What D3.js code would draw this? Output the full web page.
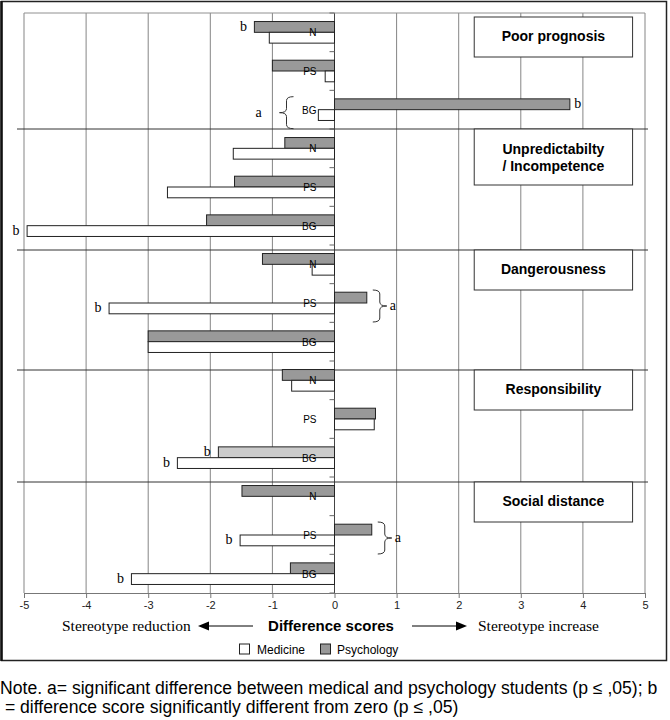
<!DOCTYPE html>
<html>
<head>
<meta charset="utf-8">
<script src="https://cdn.jsdelivr.net/npm/d3@7"></script>
<style>
body { margin: 0; background: #fff; }
</style>
</head>
<body>
<div id="container"></div>
<script>
// data
let groups = [["Poor prognosis"], ["Unpredictabilty", "/ Incompetence"], ["Dangerousness"], ["Responsibility"], ["Social distance"]];
let categories = ["N", "PS", "BG", "N", "PS", "BG", "N", "PS", "BG", "N", "PS", "BG", "N", "PS", "BG"];
let medicine = [-1.05, -0.15, -0.26, -1.63, -2.69, -4.95, -0.36, -3.63, -3.00, -0.69, 0.64, -2.53, 0, -1.52, -3.27];
let psychology = [-1.29, -1.00, 3.79, -0.80, -1.61, -2.06, -1.16, 0.52, -3.00, -0.84, 0.66, -1.87, -1.49, 0.60, -0.71];
let ticks = [-5, -4, -3, -2, -1, 0, 1, 2, 3, 4, 5];
// b = different from zero, a = medicine vs psychology
let bMarks = [[0, "psy"], [2, "psy"], [5, "med"], [7, "med"], [11, "psy"], [11, "med"], [13, "med"], [14, "med"]];
let aMarks = [[2, "left"], [7, "right"], [13, "right"]];

let viz = d3.select("#container")
  .append("svg")
    .attr("width", 670)
    .attr("height", 720)
;

let x = d3.scaleLinear().domain([-5, 5]).range([24, 645]);
let y = d3.scaleBand().domain(d3.range(15)).range([13, 593]);
let barH = 10.8;
let sans = "Liberation Sans, Arial, sans-serif";
let serif = "Liberation Serif, Times New Roman, serif";

// outer frame
viz.append("rect")
    .attr("x", 1.5)
    .attr("y", 1.5)
    .attr("width", 665)
    .attr("height", 659)
    .attr("fill", "none")
    .attr("stroke", "#222")
    .attr("stroke-width", 1.5)
;
viz.append("line")
    .attr("x1", 1.5).attr("y1", 1)
    .attr("x2", 1.5).attr("y2", 661)
    .attr("stroke", "#111")
    .attr("stroke-width", 2.5)
;

// grid
viz.selectAll(".grid")
  .data(ticks)
  .enter()
  .append("line")
    .attr("x1", d => x(d))
    .attr("x2", d => x(d))
    .attr("y1", 13)
    .attr("y2", 593)
    .attr("stroke", d => d == 0 ? "#444" : "#858585")
    .attr("stroke-width", 1)
;
viz.append("line")
    .attr("x1", x(-5)).attr("y1", 13)
    .attr("x2", x(5)).attr("y2", 13)
    .attr("stroke", "#909090")
;

// little category ticks on the zero line
viz.selectAll(".ctick")
  .data(d3.range(16))
  .enter()
  .append("line")
    .attr("x1", x(0) - 5)
    .attr("x2", x(0))
    .attr("y1", d => 13 + d * y.bandwidth())
    .attr("y2", d => 13 + d * y.bandwidth())
    .attr("stroke", "#666")
;

// panel separators
let sepY = [129, 250, 370, 482];
viz.selectAll(".sep")
  .data(sepY)
  .enter()
  .append("line")
    .attr("x1", 17)
    .attr("x2", 648)
    .attr("y1", d => d)
    .attr("y2", d => d)
    .attr("stroke", "#333")
;

// title boxes
let boxY = [17, 129, 250, 370, 482];
groups.forEach(function(g, i) {
  let h = g.length > 1 ? 56 : 40;
  viz.append("rect")
      .attr("x", x(2.25))
      .attr("y", boxY[i])
      .attr("width", x(4.8) - x(2.25))
      .attr("height", h)
      .attr("fill", "white")
      .attr("stroke", "#333")
  ;
  g.forEach(function(t, j) {
    viz.append("text")
        .text(t)
        .attr("font-family", sans)
        .attr("font-weight", "bold")
        .attr("font-size", 14)
        .attr("text-anchor", "middle")
        .attr("x", (x(2.25) + x(4.8)) / 2)
        .attr("y", g.length > 1 ? boxY[i] + 25 + j * 17 : boxY[i] + 24)
    ;
  });
});

// bars
function barX(v) { return Math.min(x(0), x(v)); }
function barW(v) { return Math.abs(x(v) - x(0)); }
function mid(i) { return y(i) + y.bandwidth() / 2; }

viz.selectAll(".psy")
  .data(psychology)
  .enter()
  .append("rect")
    .attr("x", d => barX(d))
    .attr("y", (d, i) => mid(i) - barH)
    .attr("width", d => barW(d))
    .attr("height", barH)
    .attr("fill", (d, i) => i == 11 ? "#cbcbcb" : "#999999")
    .attr("stroke", "#222")
;

viz.selectAll(".med")
  .data(medicine)
  .enter()
  .append("rect")
    .attr("x", d => barX(d))
    .attr("y", (d, i) => mid(i))
    .attr("width", d => barW(d))
    .attr("height", barH)
    .attr("fill", "white")
    .attr("stroke", "#222")
    .attr("display", d => d == 0 ? "none" : null)
;

// category labels
viz.selectAll(".cat")
  .data(categories)
  .enter()
  .append("text")
    .text(d => d)
    .attr("font-family", sans)
    .attr("font-size", 10)
    .attr("text-anchor", "end")
    .attr("x", x(0) - 18)
    .attr("y", (d, i) => mid(i) + 4)
;

// b marks
bMarks.forEach(function(m) {
  let v = m[1] == "psy" ? psychology[m[0]] : medicine[m[0]];
  let cy = m[1] == "psy" ? mid(m[0]) - barH / 2 : mid(m[0]) + barH / 2;
  viz.append("text")
      .text("b")
      .attr("font-family", serif)
      .attr("font-size", 14)
      .attr("text-anchor", "middle")
      .attr("x", v < 0 ? x(v) - 11 : x(v) + 8)
      .attr("y", cy + 4)
  ;
});

// a marks with braces
function brace(x0, w, y1, y2, dir) {
  let ym = (y1 + y2) / 2;
  let xm = x0 + dir * w / 2;
  let xt = x0 + dir * w;
  let r = 4;
  return "M" + x0 + "," + y1 +
    " Q" + xm + "," + y1 + " " + xm + "," + (y1 + r) +
    " L" + xm + "," + (ym - r) +
    " Q" + xm + "," + ym + " " + xt + "," + ym +
    " Q" + xm + "," + ym + " " + xm + "," + (ym + r) +
    " L" + xm + "," + (y2 - r) +
    " Q" + xm + "," + y2 + " " + x0 + "," + y2;
}
aMarks.forEach(function(m) {
  let i = m[0];
  let y1 = mid(i) - 13, y2 = mid(i) + 19;
  let x0, dir, tx;
  if (m[1] == "left") {
    x0 = x(0) - 41; dir = -1; tx = x0 - 35;
  } else {
    x0 = x(Math.max(psychology[i], medicine[i])) + 6; dir = 1; tx = x0 + 20;
  }
  viz.append("path")
      .attr("d", brace(x0, 14, y1, y2, dir))
      .attr("fill", "none")
      .attr("stroke", "#333")
  ;
  viz.append("text")
      .text("a")
      .attr("font-family", serif)
      .attr("font-size", 14)
      .attr("text-anchor", "middle")
      .attr("x", tx)
      .attr("y", (y1 + y2) / 2 + 4)
  ;
});

// x axis
let axis = viz.append("g")
    .attr("transform", "translate(0,593)")
    .call(d3.axisBottom(x).tickValues(ticks).tickSize(5).tickSizeOuter(0).tickFormat(d => String(d)))
;
axis.select(".domain").attr("stroke", "#777");
axis.selectAll(".tick line").attr("stroke", "#777");
axis.selectAll("text")
    .attr("font-family", sans)
    .attr("font-size", 11)
    .attr("fill", "#222")
;

// bottom caption with arrows
viz.append("text")
    .text("Stereotype reduction")
    .attr("font-family", serif)
    .attr("font-size", 15.5)
    .attr("x", 62)
    .attr("y", 631)
;
viz.append("text")
    .text("Difference scores")
    .attr("font-family", sans)
    .attr("font-weight", "bold")
    .attr("font-size", 15)
    .attr("text-anchor", "middle")
    .attr("x", 331)
    .attr("y", 631)
;
viz.append("text")
    .text("Stereotype increase")
    .attr("font-family", serif)
    .attr("font-size", 15.5)
    .attr("x", 478)
    .attr("y", 631)
;
viz.append("line")
    .attr("x1", 253).attr("y1", 626)
    .attr("x2", 206).attr("y2", 626)
    .attr("stroke", "black")
;
viz.append("path")
    .attr("d", "M198,626 L209,621.5 L209,630.5 Z")
    .attr("fill", "black")
;
viz.append("line")
    .attr("x1", 412).attr("y1", 626)
    .attr("x2", 459).attr("y2", 626)
    .attr("stroke", "black")
;
viz.append("path")
    .attr("d", "M467,626 L456,621.5 L456,630.5 Z")
    .attr("fill", "black")
;

// legend
viz.append("rect")
    .attr("x", 239.5).attr("y", 644)
    .attr("width", 10).attr("height", 10)
    .attr("fill", "white")
    .attr("stroke", "#222")
;
viz.append("text")
    .text("Medicine")
    .attr("font-family", sans)
    .attr("font-size", 12)
    .attr("x", 257)
    .attr("y", 653.5)
;
viz.append("rect")
    .attr("x", 320.5).attr("y", 644)
    .attr("width", 10).attr("height", 10)
    .attr("fill", "#999999")
    .attr("stroke", "#222")
;
viz.append("text")
    .text("Psychology")
    .attr("font-family", sans)
    .attr("font-size", 12)
    .attr("x", 337)
    .attr("y", 653.5)
;

// note
viz.append("text")
    .text("Note. a= significant difference between medical and psychology students (p \u2264 ,05); b")
    .attr("font-family", sans)
    .attr("font-size", 17.6)
    .attr("x", 0)
    .attr("y", 694)
;
viz.append("text")
    .text(" = difference score significantly different from zero (p \u2264 ,05)")
    .attr("font-family", sans)
    .attr("font-size", 17.6)
    .attr("xml:space", "preserve")
    .attr("x", 0)
    .attr("y", 713)
;
</script>
</body>
</html>
